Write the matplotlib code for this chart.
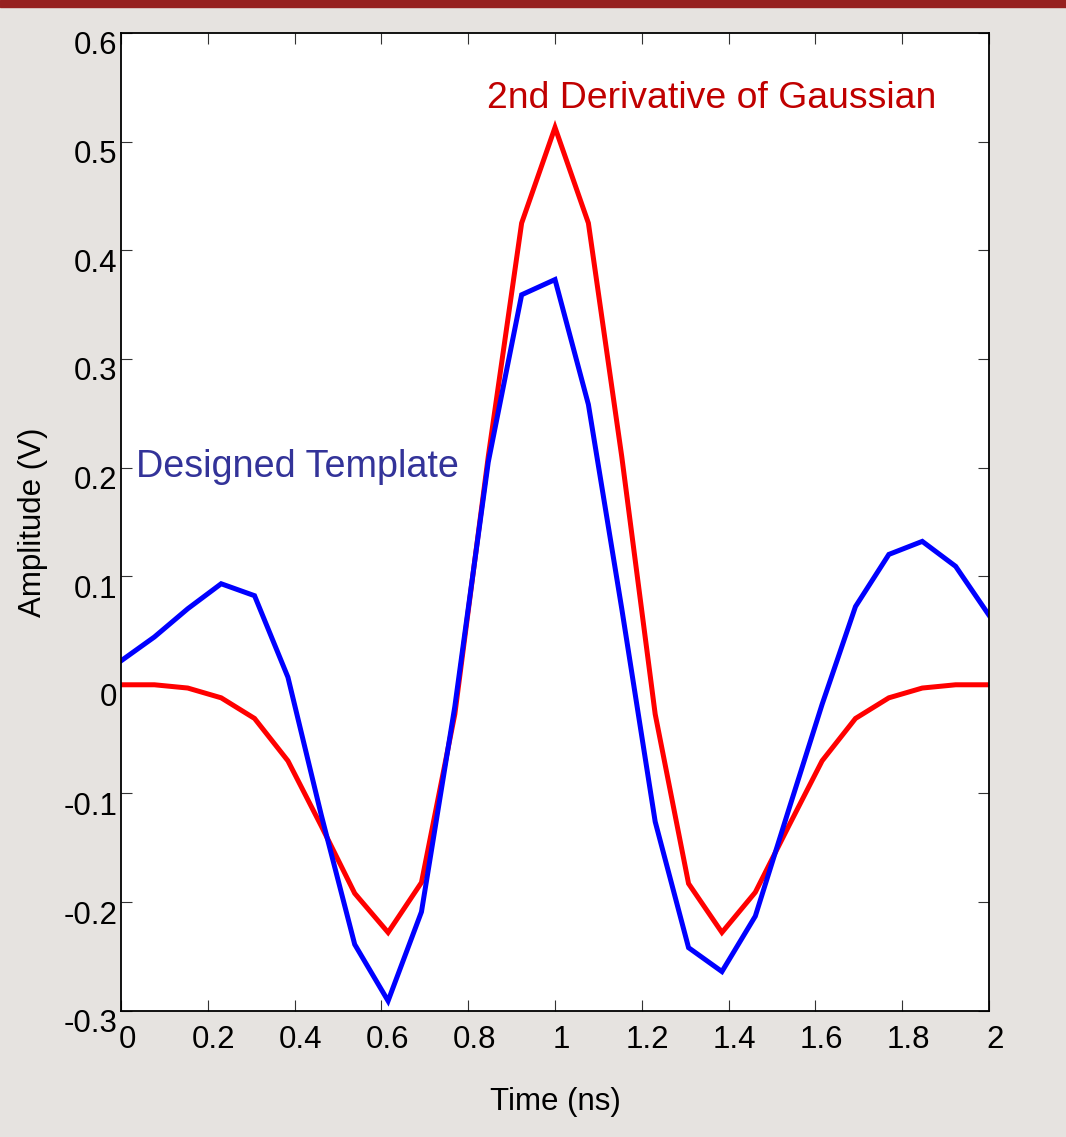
import matplotlib.pyplot as plt
from matplotlib.patches import Rectangle
from matplotlib.transforms import ScaledTranslation

plt.rcParams['font.family'] = ['Liberation Sans', 'DejaVu Sans']

# sample times (ns)
time_ns = [0.0, 0.0769, 0.1538, 0.2308, 0.3077, 0.3846, 0.4615, 0.5385, 0.6154,
           0.6923, 0.7692, 0.8462, 0.9231, 1.0, 1.0769, 1.1538, 1.2308, 1.3077,
           1.3846, 1.4615, 1.5385, 1.6154, 1.6923, 1.7692, 1.8462, 1.9231, 2.0]

# 2nd derivative of gaussian (V)
gauss_d2 = [0.0, 0.0, -0.003, -0.012, -0.031, -0.070, -0.130, -0.192, -0.228,
            -0.182, -0.027, 0.210, 0.425, 0.513, 0.425, 0.210, -0.027, -0.183,
            -0.228, -0.191, -0.130, -0.070, -0.031, -0.012, -0.003, 0.0, 0.0]

# designed template (V)
template = [0.022, 0.044, 0.070, 0.093, 0.082, 0.007, -0.120, -0.239, -0.291,
            -0.209, -0.020, 0.205, 0.359, 0.373, 0.258, 0.070, -0.126, -0.242,
            -0.264, -0.213, -0.115, -0.018, 0.072, 0.120, 0.132, 0.109, 0.064]

x_ticks = [0, 0.2, 0.4, 0.6, 0.8, 1, 1.2, 1.4, 1.6, 1.8, 2]
x_labels = ['0', '0.2', '0.4', '0.6', '0.8', '1', '1.2', '1.4', '1.6', '1.8', '2']
y_ticks = [-0.3, -0.2, -0.1, 0, 0.1, 0.2, 0.3, 0.4, 0.5, 0.6]
y_labels = ['-0.3', '-0.2', '-0.1', '0', '0.1', '0.2', '0.3', '0.4', '0.5', '0.6']

fig = plt.figure(figsize=(10.66, 11.37), dpi=100, facecolor='#e6e3e0')
ax = fig.add_axes([0.1135, 0.1111, 0.8143, 0.8599])
ax.set_facecolor('white')

# dark red band at the top
fig.add_artist(Rectangle((0, 1 - 7 / 1137), 1, 7 / 1137, transform=fig.transFigure,
                         color='#96201f', zorder=0))

ax.plot(time_ns, gauss_d2, color='#ff0000', lw=3.6, solid_joinstyle='miter')
ax.plot(time_ns, template, color='#0000ff', lw=3.6, solid_joinstyle='miter')

ax.text(0.843, 0.531, '2nd Derivative of Gaussian', color='#c00000',
        fontsize=26.9, va='baseline', ha='left')
ax.text(0.0346, 0.1915, 'Designed Template', color='#333399',
        fontsize=27.2, va='baseline', ha='left')

ax.set_xlim(0, 2)
ax.set_ylim(-0.3, 0.6)
ax.set_xticks(x_ticks)
ax.set_xticklabels(x_labels)
ax.set_yticks(y_ticks)
ax.set_yticklabels(y_labels)
ax.tick_params(direction='in', length=8, width=0.8, color='#333333',
               top=True, right=True, labelsize=22.5)
ax.tick_params(axis='y', pad=4)
ax.tick_params(axis='x', pad=10)
for s in ax.spines.values():
    s.set_linewidth(1.3)

# tick labels sit a bit off their ticks, like the original export
for lab in ax.get_yticklabels():
    lab.set_transform(lab.get_transform() + ScaledTranslation(0.02, -0.10, fig.dpi_scale_trans))
for lab in ax.get_xticklabels():
    lab.set_transform(lab.get_transform() + ScaledTranslation(0.06, 0, fig.dpi_scale_trans))

ax.set_xlabel('Time (ns)', fontsize=22.5)
ax.set_ylabel('Amplitude (V)', fontsize=22.5)
ax.xaxis.set_label_coords(0.5, -0.078)
ax.yaxis.set_label_coords(-0.084, 0.5)

fig.savefig('out.png', dpi=100, facecolor=fig.get_facecolor())
